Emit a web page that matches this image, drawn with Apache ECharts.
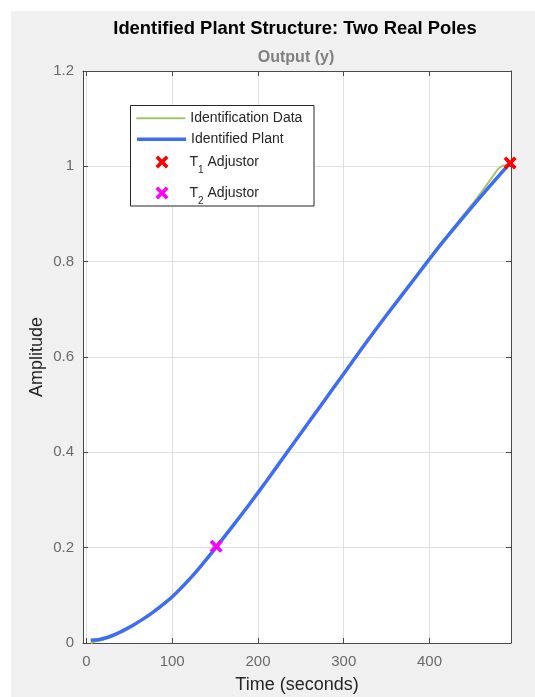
<!DOCTYPE html>
<html>
<head>
<meta charset="utf-8">
<script src="https://cdn.jsdelivr.net/npm/echarts@6/dist/echarts.min.js"></script>
<style>
  html, body { margin: 0; padding: 0; background: #ffffff; }
  #chart { width: 535px; height: 697px; }
</style>
</head>
<body>
<div id="chart"></div>
<script>
// ---- data ----
const titleText = 'Identified Plant Structure: Two Real Poles';
const subtitleText = 'Output (y)';
const xAxisName = 'Time (seconds)';
const yAxisName = 'Amplitude';
const xTicks = [0, 100, 200, 300, 400];
const yTicks = [0, 0.2, 0.4, 0.6, 0.8, 1, 1.2];

const dataTime = [5, 10, 20, 30, 40, 50, 60, 70, 85, 100, 115, 130, 150, 170, 190, 210, 234, 250, 270, 290, 310, 330, 350, 370, 390, 410, 430, 450, 465, 480, 486, 494];
const dataAmp  = [0.000, 0.003, 0.007, 0.014, 0.024, 0.035, 0.044, 0.054, 0.073, 0.095, 0.122, 0.154, 0.199, 0.245, 0.291, 0.340, 0.400, 0.441, 0.491, 0.541, 0.590, 0.640, 0.688, 0.736, 0.783, 0.830, 0.876, 0.921, 0.957, 0.995, 1.002, 1.003];

const plantTime = [5, 15, 25, 35, 45, 55, 65, 75, 85, 100, 115, 130, 150, 170, 190, 210, 234, 250, 270, 290, 310, 330, 350, 370, 390, 410, 430, 450, 470, 494];
const plantAmp  = [0.006, 0.0075, 0.012, 0.019, 0.028, 0.038, 0.049, 0.061, 0.0745, 0.097, 0.124, 0.154, 0.198, 0.244, 0.291, 0.340, 0.400, 0.440, 0.490, 0.540, 0.590, 0.640, 0.688, 0.735, 0.782, 0.829, 0.873, 0.916, 0.958, 1.007];

const t1Adjustor = [494, 1.007];
const t2Adjustor = [151.3, 0.203];

const seriesNames = ['Identification Data', 'Identified Plant', 'T1 Adjustor', 'T2 Adjustor'];

// ---- build ----
const zip = (a, b) => a.map((v, i) => [v, b[i]]);
const FONT = '"Liberation Sans", Arial, Helvetica, sans-serif';
const XPATH = 'path://M0,2 L2,0 L5,3 L8,0 L10,2 L7,5 L10,8 L8,10 L5,7 L2,10 L0,8 L3,5 Z';
const axisColor = '#4a4a4a';
const labelColor = '#6a6a6a';
const greenColor = '#a3c46b';
const blueColor = '#3d6df2';

const chart = echarts.init(document.getElementById('chart'), null, { renderer: 'canvas' });

const legendRich = {
  t: { fontSize: 14, lineHeight: 16, color: '#262626', fontFamily: FONT, verticalAlign: 'middle' },
  s: { fontSize: 10, lineHeight: 12, color: '#262626', fontFamily: FONT, verticalAlign: 'middle', padding: [16, 0, 0, 0] }
};
const legendFormatter = function (name) {
  const m = name.match(/^T(\d) (.*)$/);
  if (m) return '{t|T}{s|' + m[1] + '}{t| ' + m[2] + '}';
  return name;
};
const legendBase = {
  orient: 'vertical',
  padding: 0,
  itemGap: 7,
  selectedMode: false,
  textStyle: { fontSize: 14, color: '#262626', fontFamily: FONT, rich: legendRich },
  formatter: legendFormatter
};

const option = {
  animation: false,
  backgroundColor: '#ffffff',
  textStyle: { fontFamily: FONT },
  graphic: [
    { type: 'rect', z: -100, shape: { x: 11, y: 11, width: 524, height: 686 }, style: { fill: '#f0f0f0' } },
    { type: 'rect', z: 3, shape: { x: 130.5, y: 105.5, width: 183.5, height: 100.5 }, style: { fill: '#ffffff', stroke: '#262626', lineWidth: 1 } },
    { type: 'text', z: 5, x: 295, y: 29, style: { text: titleText, font: 'bold 18.4px ' + FONT, fill: '#000000', align: 'center', verticalAlign: 'middle', textAlign: 'center', textVerticalAlign: 'middle' } },
    { type: 'text', z: 5, x: 296, y: 57.5, style: { text: subtitleText, font: 'bold 16px ' + FONT, fill: '#808080', align: 'center', verticalAlign: 'middle', textAlign: 'center', textVerticalAlign: 'middle' } }
  ],
  grid: { left: 83, top: 71, right: 24, bottom: 54, show: true, backgroundColor: '#ffffff', borderWidth: 0,
    containLabel: false, outerBoundsMode: 'none' },
  legend: [
    Object.assign({}, legendBase, { data: [seriesNames[0]], left: 135.3, top: 111.3, itemWidth: 49, itemHeight: 14,
      itemStyle: { opacity: 0, borderWidth: 0 }, lineStyle: { width: 2, color: greenColor } }),
    Object.assign({}, legendBase, { data: [seriesNames[1]], left: 135.3, top: 132.3, itemWidth: 49, itemHeight: 14,
      itemStyle: { opacity: 0, borderWidth: 0 }, lineStyle: { width: 3.5, color: blueColor } }),
    Object.assign({}, legendBase, { data: [seriesNames[2]], left: 155.5, top: 149, itemWidth: 45, itemHeight: 13 }),
    Object.assign({}, legendBase, { data: [seriesNames[3]], left: 155.5, top: 180, itemWidth: 45, itemHeight: 13 })
  ],
  xAxis: [
    {
      type: 'value', min: -4, max: 495, position: 'bottom',
      name: xAxisName, nameLocation: 'middle', nameGap: 33, nameMoveOverlap: false,
      nameTextStyle: { fontSize: 18, color: '#262626', fontFamily: FONT },
      axisLine: { show: true, onZero: false, lineStyle: { color: axisColor, width: 1 } },
      axisTick: { show: true, inside: true, length: 5, customValues: xTicks, lineStyle: { color: axisColor } },
      axisLabel: { show: true, customValues: xTicks, margin: 11, fontSize: 15, color: labelColor, fontFamily: FONT },
      splitLine: { show: true, lineStyle: { color: '#dfdfdf', width: 1 } }
    },
    {
      type: 'value', min: -4, max: 495, position: 'top',
      axisLine: { show: true, onZero: false, lineStyle: { color: axisColor, width: 1 } },
      axisTick: { show: true, inside: true, length: 5, customValues: xTicks, lineStyle: { color: axisColor } },
      axisLabel: { show: false, customValues: xTicks },
      splitLine: { show: false }
    }
  ],
  yAxis: [
    {
      type: 'value', min: 0, max: 1.2, interval: 0.2, position: 'left',
      name: yAxisName, nameLocation: 'middle', nameGap: 37, nameMoveOverlap: false,
      nameTextStyle: { fontSize: 18, color: '#262626', fontFamily: FONT },
      axisLine: { show: true, onZero: false, lineStyle: { color: axisColor, width: 1 } },
      axisTick: { show: true, inside: true, length: 5, lineStyle: { color: axisColor } },
      axisLabel: { show: true, margin: 9, fontSize: 15, color: labelColor, fontFamily: FONT,
        formatter: v => String(+v.toFixed(1)) },
      splitLine: { show: true, lineStyle: { color: '#dfdfdf', width: 1 } }
    },
    {
      type: 'value', min: 0, max: 1.2, interval: 0.2, position: 'right',
      axisLine: { show: true, onZero: false, lineStyle: { color: axisColor, width: 1 } },
      axisTick: { show: true, inside: true, length: 5, lineStyle: { color: axisColor } },
      axisLabel: { show: false },
      splitLine: { show: false }
    }
  ],
  series: [
    {
      name: seriesNames[0], type: 'line', xAxisIndex: 0, yAxisIndex: 0,
      data: zip(dataTime, dataAmp), symbol: 'none', z: 2,
      lineStyle: { color: greenColor, width: 2 }, itemStyle: { color: greenColor }
    },
    {
      name: seriesNames[1], type: 'line', xAxisIndex: 0, yAxisIndex: 0,
      data: zip(plantTime, plantAmp), symbol: 'none', smooth: 0.25, z: 3,
      lineStyle: { color: blueColor, width: 3.5 }, itemStyle: { color: blueColor }
    },
    {
      name: seriesNames[2], type: 'scatter', xAxisIndex: 0, yAxisIndex: 0,
      data: [t1Adjustor], symbol: XPATH, symbolSize: 13, z: 5,
      itemStyle: { color: '#ff0000', opacity: 1 }
    },
    {
      name: seriesNames[3], type: 'scatter', xAxisIndex: 0, yAxisIndex: 0,
      data: [t2Adjustor], symbol: XPATH, symbolSize: 13, z: 5,
      itemStyle: { color: '#ff00ff', opacity: 1 }
    }
  ]
};
chart.setOption(option);
</script>
</body>
</html>
